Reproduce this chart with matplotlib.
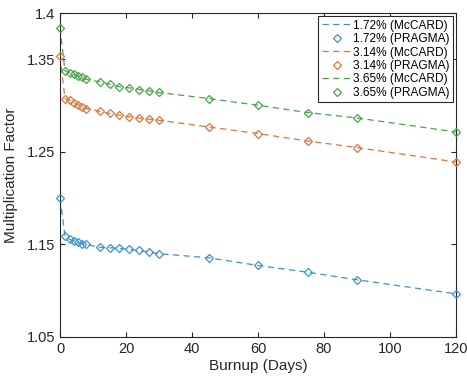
import matplotlib
matplotlib.use('Agg')
import matplotlib.pyplot as plt

plt.rcParams['font.family'] = ['Liberation Sans', 'DejaVu Sans']

# burnup steps (days)
burnup = [0, 1.5, 3, 4.25, 5.5, 6.75, 8, 12, 15, 18, 21, 24, 27, 30, 45, 60, 75, 90, 120]

# multiplication factor per enrichment
k_172 = [1.200, 1.159, 1.1554, 1.1536, 1.1522, 1.1508, 1.150, 1.147, 1.1464, 1.1457,
         1.1446, 1.1435, 1.1417, 1.140, 1.1356, 1.1273, 1.120, 1.1118, 1.0966]
k_314 = [1.3535, 1.3077, 1.3058, 1.3029, 1.3012, 1.2986, 1.2969, 1.2939, 1.2915, 1.2896,
         1.288, 1.2864, 1.2853, 1.2842, 1.277, 1.2698, 1.2618, 1.2547, 1.2391]
k_365 = [1.3841, 1.3376, 1.3354, 1.334, 1.3318, 1.3304, 1.3283, 1.3257, 1.3232, 1.3203,
         1.3192, 1.3174, 1.3159, 1.3142, 1.3077, 1.3004, 1.2925, 1.2867, 1.2715]

enrichments = ['1.72%', '3.14%', '3.65%']
series = [k_172, k_314, k_365]
colors = ['#3b94c9', '#db7640', '#4aa34a']

x_ticks = [0, 20, 40, 60, 80, 100, 120]
y_ticks = [1.05, 1.15, 1.25, 1.35, 1.4]
y_ticklabels = ['1.05', '1.15', '1.25', '1.35', '1.4']

fig = plt.figure(figsize=(4.67, 3.85), dpi=100)
ax = fig.add_axes([0.1285, 0.1247, 0.848, 0.8413])

for name, k, c in zip(enrichments, series, colors):
    ax.plot(burnup, k, linestyle=(0, (5, 3.5)), color=c, linewidth=0.9,
            label=name + ' (McCARD)')
    ax.plot(burnup, k, linestyle='none', marker='D', markersize=4.5,
            markerfacecolor='none', markeredgecolor=c, markeredgewidth=0.9,
            clip_on=False, zorder=3, label=name + ' (PRAGMA)')

ax.set_xlim(0, 120)
ax.set_ylim(1.05, 1.4)
ax.set_xticks(x_ticks)
ax.set_yticks(y_ticks)
ax.set_yticklabels(y_ticklabels)

ax.tick_params(direction='in', length=3.5, width=0.8, colors='#262626',
               labelsize=10.5, top=True, right=True, labelcolor='#262626')
for s in ax.spines.values():
    s.set_color('#262626')
    s.set_linewidth(0.8)

ax.set_xlabel('Burnup (Days)', fontsize=11, color='#262626', labelpad=2)
ax.set_ylabel('Multiplication Factor', fontsize=11, color='#262626', labelpad=6)

leg = ax.legend(loc='upper right', fontsize=8.6, frameon=True, fancybox=False,
                edgecolor='#262626', framealpha=1, borderaxespad=0.25,
                handlelength=2.5, handletextpad=0.1, labelspacing=0.12,
                borderpad=0.3)
leg.get_frame().set_linewidth(0.8)
leg.set_zorder(5)

fig.savefig('out.png', dpi=100)
